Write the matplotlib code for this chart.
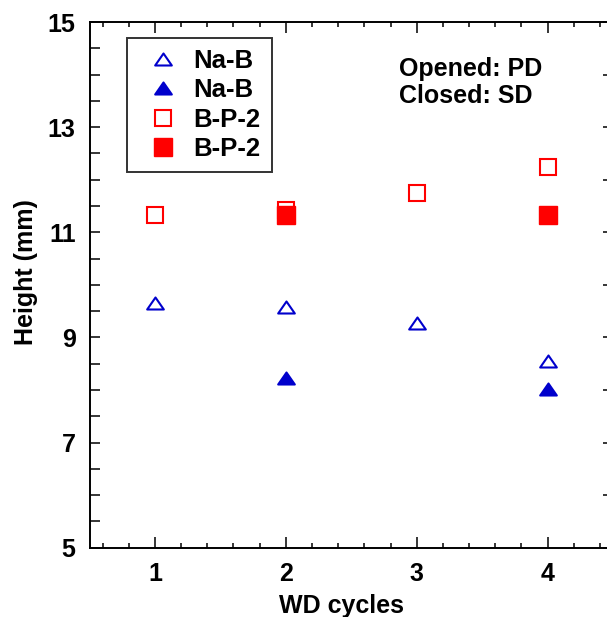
import numpy as np
import matplotlib.pyplot as plt
from matplotlib.path import Path
from matplotlib.ticker import MultipleLocator, FixedLocator

plt.rcParams['font.family'] = ['Liberation Sans', 'DejaVu Sans']
plt.rcParams['font.weight'] = 'bold'

# data
cycles_open = [1, 2, 3, 4]
cycles_closed = [2, 4]
nab_open = [9.66, 9.57, 9.28, 8.55]
nab_closed = [8.23, 8.02]
bp2_open = [11.32, 11.42, 11.74, 12.24]
bp2_closed = [11.33, 11.33]
y_labels = [5, 7, 9, 11, 13, 15]

blue = '#0000cc'
red = '#ff0000'
# flat-ish triangle like the original
tri = Path([(-1, -0.72), (1, -0.72), (0, 0.72), (0, 0)],
           [Path.MOVETO, Path.LINETO, Path.LINETO, Path.CLOSEPOLY])

fig = plt.figure(figsize=(6.07, 6.17), dpi=100)
ax = fig.add_axes([89.5 / 607, 1 - 547.7 / 617, 523.5 / 607, 525.7 / 617])

ax.plot(cycles_open, nab_open, linestyle='none', marker=tri, ms=12,
        mfc='none', mec=blue, mew=1.5, label='Na-B')
ax.plot(cycles_closed, nab_closed, linestyle='none', marker=tri, ms=12,
        mfc=blue, mec=blue, mew=1.5, label='Na-B')
ax.plot(cycles_open, bp2_open, linestyle='none', marker='s', ms=11.5,
        mfc='none', mec=red, mew=1.5, label='B-P-2')
ax.plot(cycles_closed, bp2_closed, linestyle='none', marker='s', ms=12.5,
        mfc=red, mec=red, mew=1.0, label='B-P-2')

ax.set_xlim(0.5, 4.5)
ax.set_ylim(5, 15)
ax.xaxis.set_major_locator(MultipleLocator(1))
ax.xaxis.set_minor_locator(MultipleLocator(0.2))
ax.yaxis.set_major_locator(FixedLocator(y_labels))
ax.yaxis.set_minor_locator(MultipleLocator(0.5))

for s in ax.spines.values():
    s.set_linewidth(1.4)

ax.tick_params(axis='x', which='major', direction='in', length=8, width=1.1,
               top=True, labelsize=18, pad=10)
ax.tick_params(axis='x', which='minor', direction='in', length=3.5, width=1.1, top=True)
ax.tick_params(axis='y', which='both', direction='in', length=7.5, width=1.1,
               right=False, labelsize=18, pad=10)

sec = ax.secondary_yaxis('right')
sec.set_yticks(np.arange(5, 16, 1))
sec.tick_params(direction='in', length=7.5, width=1.1, labelright=False)
sec.spines['right'].set_linewidth(1.4)

ax.set_xlabel('WD cycles', fontsize=18, fontweight='bold', labelpad=6)
ax.xaxis.label.set_x(0.482)
ax.set_ylabel('Height (mm)', fontsize=18, fontweight='bold', labelpad=7)
ax.yaxis.label.set_y(0.524)

leg = ax.legend(loc='upper left', bbox_to_anchor=(0.071, 0.97), fontsize=18.5,
                frameon=True, fancybox=False, edgecolor='black',
                handlelength=1.9, handletextpad=0.25, borderpad=0.45,
                labelspacing=0.2, borderaxespad=0)
leg.get_frame().set_linewidth(1.4)

ax.text(0.592, 0.934, 'Opened: PD\nClosed: SD', transform=ax.transAxes,
        fontsize=18, fontweight='bold', va='top', ha='left', linespacing=1.2)

fig.savefig('out.png', dpi=100)
